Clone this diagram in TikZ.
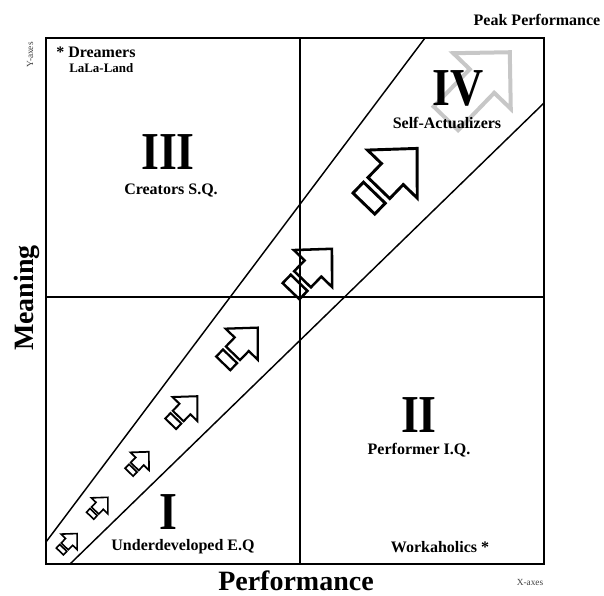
\documentclass[tikz,border=0pt]{standalone}
\usepackage{fontspec}
\setmainfont{Liberation Serif}

\begin{document}
\begin{tikzpicture}[x=0.75pt,y=-0.75pt,
  lbl/.style={font=\bfseries\fontsize{12}{14}\selectfont, inner sep=0pt},
  small lbl/.style={font=\bfseries\fontsize{9.7}{11}\selectfont, inner sep=0pt},
  numeral/.style={font=\bfseries\fontsize{40}{44}\selectfont, inner sep=0pt},
  axis title/.style={font=\bfseries\fontsize{21}{24}\selectfont, inner sep=0pt},
  axis note/.style={font=\fontsize{7}{8}\selectfont, text=black!75, inner sep=0pt},
  growth/.style={draw, line width=#1, line join=miter},
  peak/.style={draw=black!22, line width=3pt, line join=miter}]

  \useasboundingbox (0,0) rectangle (604,596);

  % quadrant frame
  \coordinate (nw) at (46,38);
  \coordinate (se) at (544,564);
  \coordinate (n) at (300,38);
  \coordinate (s) at (300,564);
  \coordinate (w) at (46,297);
  \coordinate (e) at (544,297);
  \coordinate (upper start) at (46,542);
  \coordinate (upper end) at (425,38);
  \coordinate (lower start) at (70,564);
  \coordinate (lower end) at (544,103);

  % faded peak arrow
  \begin{scope}[shift={(482,81)}, rotate=46]
    \draw[peak] (-52,-17) -- (0,-17) -- (0,-40) -- (40,0) -- (0,40) -- (0,17) -- (-52,17) -- cycle;
  \end{scope}

  \draw[line width=1.7pt] (nw) rectangle (se);
  \draw[line width=1.1pt] (n) -- (s);
  \draw[line width=1.1pt] (w) -- (e);
  \draw[line width=1.1pt] (upper start) -- (upper end);
  \draw[line width=1.1pt] (lower start) -- (lower end);

  % growing arrows
  \foreach \cx/\cy/\sc/\lw in {68.5/542.5/0.35/1.2pt, 99/506.5/0.36/1.2pt,
      139/462/0.40/1.3pt, 184/410/0.54/1.5pt, 240.5/345.5/0.70/1.7pt,
      311.5/270/0.83/1.9pt, 390.5/176/1.08/2.2pt}
  {
    \begin{scope}[shift={(\cx,\cy)}, rotate=46, scale=\sc]
      \draw[growth=\lw] (-35.5,-14) -- (-21.5,-14) -- (-21.5,14) -- (-35.5,14) -- cycle;
      \draw[growth=\lw] (-15.5,-14) -- (2.5,-14) -- (2.5,-32) -- (35.5,0) -- (2.5,32) -- (2.5,14) -- (-15.5,14) -- cycle;
    \end{scope}
  }

  \node[numeral] (q3) at (168,152) {\scalebox{0.86}[1]{III}};
  \node[lbl] (q3 name) at (171,190) {Creators S.Q.};
  \node[numeral] (q4) at (458,88) {\scalebox{0.86}[1]{IV}};
  \node[lbl] (q4 name) at (447,123) {Self-Actualizers};
  \node[numeral] (q2) at (419,415) {\scalebox{0.86}[1]{II}};
  \node[lbl] (q2 name) at (419,450) {Performer I.Q.};
  \node[numeral] (q1) at (168,512) {\scalebox{0.86}[1]{I}};
  \node[lbl] (q1 name) at (183,547) {Underdeveloped E.Q};

  \node[lbl, anchor=west] (dreamers) at (56,52) {* Dreamers};
  \node[small lbl, anchor=west] (lalaland) at (69,68) {LaLa-Land};
  \node[lbl] (workaholics) at (440,547) {Workaholics *};
  \node[lbl] (peak) at (537,20) {Peak Performance};

  \node[axis title] (x title) at (296,581) {Performance};
  \node[axis title, rotate=90] (y title) at (27,298) {Meaning};
  \node[axis note] (x note) at (530,582) {X-axes};
  \node[axis note, rotate=90] (y note) at (30,55) {Y-axes};
\end{tikzpicture}
\end{document}
